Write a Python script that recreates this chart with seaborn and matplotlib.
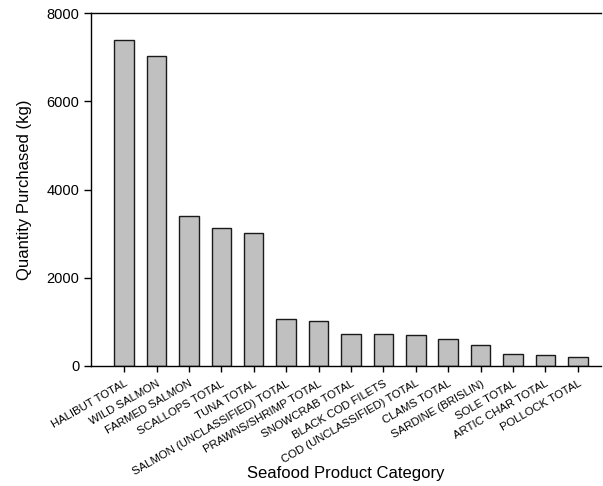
import matplotlib
matplotlib.use('Agg')
import matplotlib.pyplot as plt
import seaborn as sns
import pandas as pd

categories = ['HALIBUT TOTAL', 'WILD SALMON', 'FARMED SALMON', 'SCALLOPS TOTAL',
              'TUNA TOTAL', 'SALMON (UNCLASSIFIED) TOTAL', 'PRAWNS/SHRIMP TOTAL',
              'SNOWCRAB TOTAL', 'BLACK COD FILETS', 'COD (UNCLASSIFIED) TOTAL',
              'CLAMS TOTAL', 'SARDINE (BRISLIN)', 'SOLE TOTAL', 'ARTIC CHAR TOTAL',
              'POLLOCK TOTAL']
quantity = [7380, 7020, 3400, 3125, 3020, 1060, 1030, 720, 720, 705,
            600, 470, 270, 250, 210]
y_ticks = [0, 2000, 4000, 6000, 8000]

df = pd.DataFrame({'category': categories, 'quantity': quantity})

sns.set_style('ticks')
plt.rcParams['font.family'] = ['Liberation Sans', 'DejaVu Sans']
plt.rcParams['text.color'] = 'black'
plt.rcParams['xtick.color'] = 'black'
plt.rcParams['ytick.color'] = 'black'
plt.rcParams['axes.labelcolor'] = 'black'

fig = plt.figure(figsize=(6.03, 4.86), dpi=100)
ax = fig.add_axes([0.151, 0.247, 0.846, 0.726])

sns.barplot(data=df, x='category', y='quantity', color='#c0c0c0',
            edgecolor='#1a1a1a', linewidth=1.0, width=0.6, saturation=1, ax=ax)

ax.set_ylim(0, 8000)
ax.set_yticks(y_ticks)
ax.set_xlim(-1.02, 14.72)
ax.spines['right'].set_visible(False)
ax.spines['top'].set_visible(True)
for s in ax.spines.values():
    s.set_linewidth(1.0)
    s.set_color('black')

ax.tick_params(axis='y', labelsize=10.5, length=5, width=1)
ax.tick_params(axis='x', labelsize=8.2, length=4, width=1, pad=5)
plt.setp(ax.get_xticklabels(), rotation=30, ha='right', rotation_mode='anchor')

ax.set_xlabel('Seafood Product Category', fontsize=12)
ax.xaxis.set_label_coords(0.5, -0.283)
ax.set_ylabel('Quantity Purchased (kg)', fontsize=12, labelpad=10)

fig.savefig('out.png', dpi=100)
